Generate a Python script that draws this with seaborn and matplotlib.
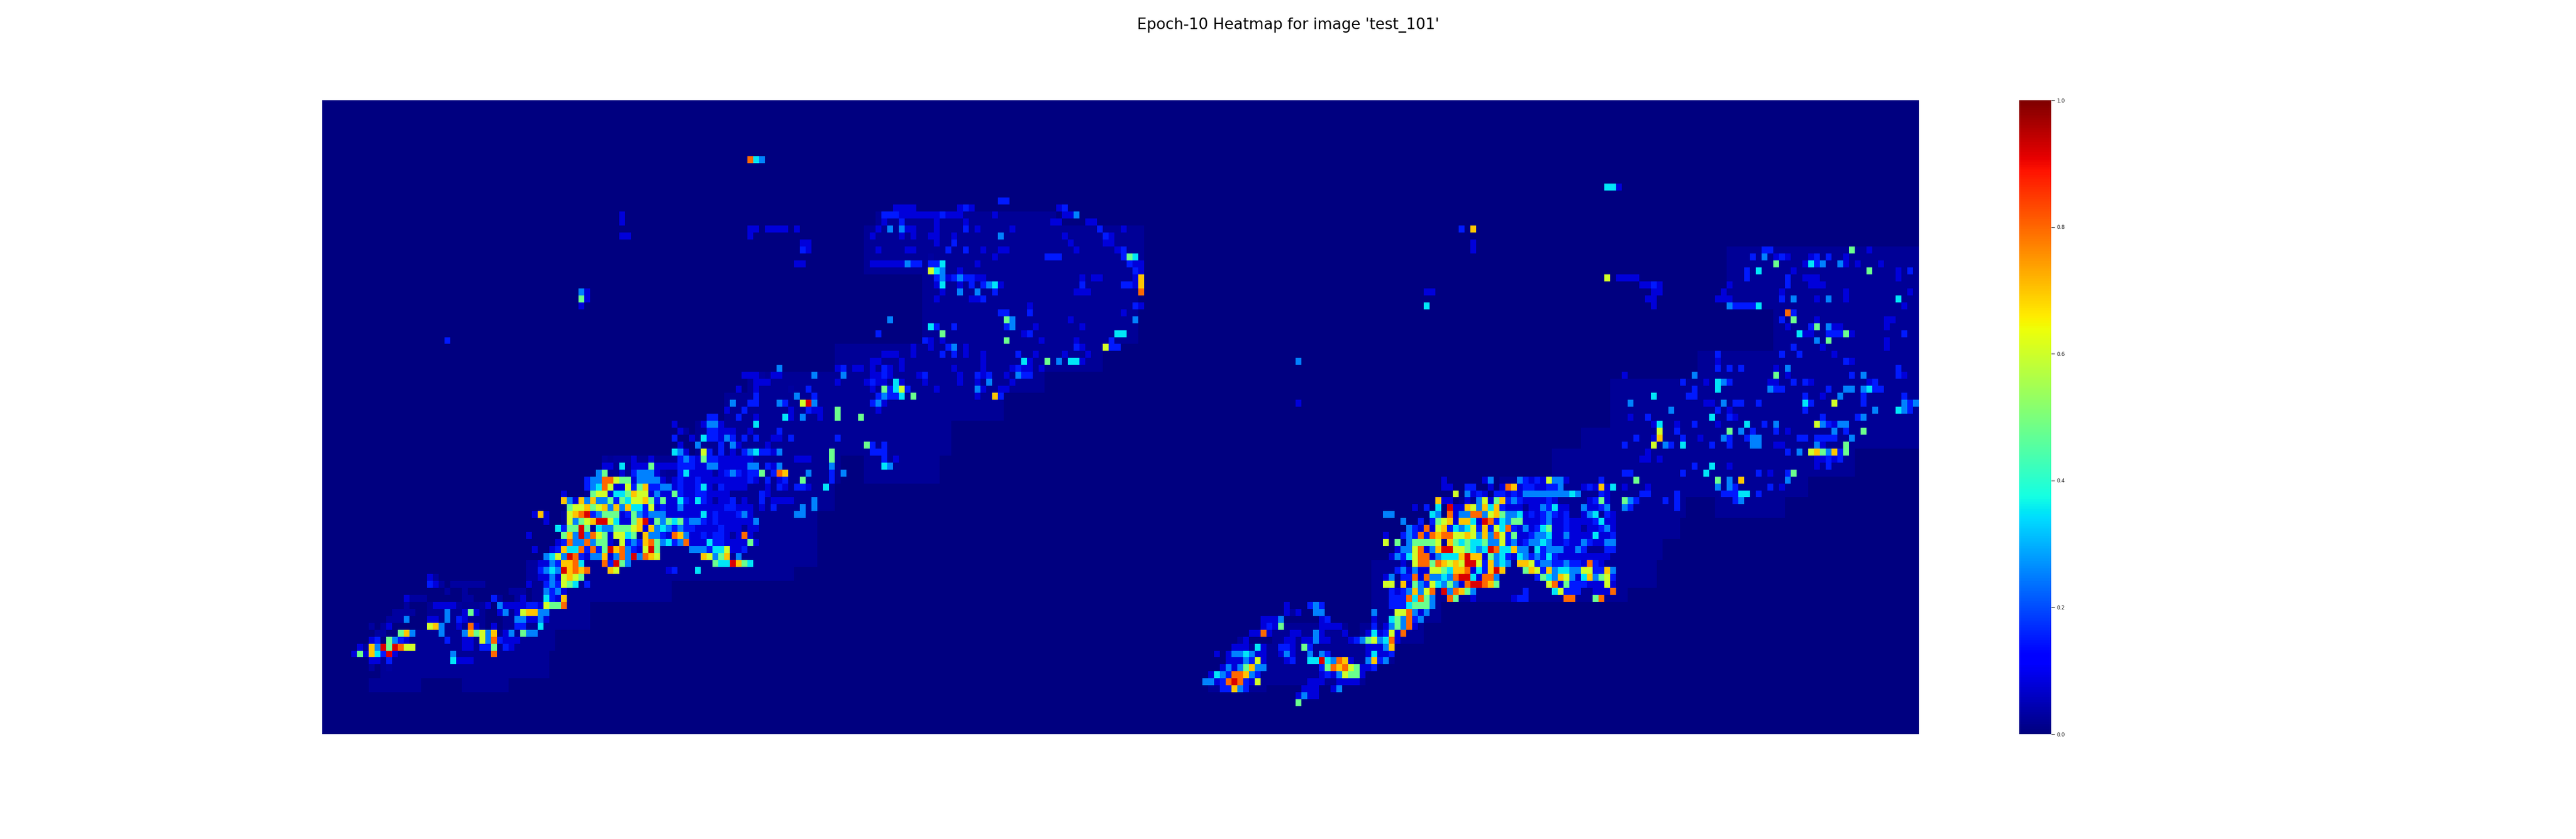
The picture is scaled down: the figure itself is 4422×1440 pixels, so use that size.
import numpy as np
import matplotlib
matplotlib.use("Agg")
import matplotlib.pyplot as plt
import seaborn as sns

TITLE = "Epoch-10 Heatmap for image 'test_101'"
N_ROWS, N_COLS = 91, 274
LEVELS = {'0': 0.03, '1': 0.08, '2': 0.15, '3': 0.25, '4': 0.35, '5': 0.48,
          '6': 0.60, '7': 0.70, '8': 0.80, '9': 0.92}
# thin flecks cover only part of a cell, so their cell average is lower
FLECK = {'9': '6', '8': '5', '7': '4', '6': '4', '5': '3', '4': '3', '3': '2'}
CBAR_TICKS = [0.0, 0.2, 0.4, 0.6, 0.8, 1.0]

# dim tissue outline: row_from, row_to, col_from, col_to
body_left = [(16,17,95,125),(18,24,93,140),(25,34,103,139),(35,38,88,133),(39,41,73,123),
             (42,45,69,116),(46,50,64,107),(51,54,48,88),(51,54,93,105),(55,58,45,87),
             (59,66,41,84),(67,68,36,80),(69,71,36,59),(72,75,31,45),(72,75,18,27),
             (76,78,15,39),(79,82,10,38),(83,84,8,16),(83,84,24,31)]
body_right = [(21,29,241,273),(30,35,249,273),(36,39,236,273),(40,46,221,273),(47,49,216,273),
              (50,53,211,262),(54,56,202,254),(57,59,195,233),(57,59,239,250),(60,62,190,232),
              (63,65,184,229),(66,69,180,228),(70,71,180,223),(72,74,180,191),(75,77,163,175),
              (75,77,178,188),(78,80,157,183),(81,83,154,178),(84,84,152,161)]

# sparse readings: each row is "col_offset:digits ..."
upper_left = ["22:33","4:1111 15:131 32:13","2:2221111 9:1112111 21:1 33:115","2:1 5:3 11:1 16:1 31:11 37:11",
 "1:1 3:5 5:511 11:1 16:3 18:1 24:1 39:3 43:1","0:1 5:1 7:1 10:11 14:1 22:5 33:1 40:31","11:1 14:3 34:1 40:11",
 "1:1 6:11 13:3 16:2 19:1 22:11 35:1 42:12","10:0 21:1 30:222 43:257","0:111111 6:4 7:22 10:237 18:1 44:211",
 "10:964 15:1 45:21","11:351 14:3432 18:11 36:1 38:11 45:17","11:16 15:1 17:2 19:3461 36:2 43:331 46:7",
 "12:1 15:4 18:5 21:2 35:111 46:8","11:1 17:113","27:1 45:31","22:33 27:2 43:1","3:5 23:85 34:1 45:5",
 "10:62 14:3 23:35 28:1 36:1","1:3 12:8 26:13 42:77","9:21 12:1 23:8 29:1 35:1 41:3","7:1 10:1 13:34 16:1 35:21 40:932",
 "2:111 7:1 12:2 14:3 16:1 19:1 25:3 28:1 33:1 37:1","0:11 5:1 19:1 26:61 30:8 32:5 34:771",
 "2:21 5:1 14:1 19:1 24:1211 29:1","0:1 2:11 8:12 15:1 18:21 20:3 23:1 25:432","0:1 4:61 9:1 15:1 18:1 20:4 24:1",
 "2:522 5:62 11:1 18:41 22:11","1:32 5:1 7:5 18:1 21:72"]
mid_left = ["18:5 28:1 29:3 31:11 34:1","12:111 15:0 17:11 24:4 29:4 35:12","14:111 28:1 33:1211","11:1 14:1 20:0 23:2 34:1 38:7",
 "14:2 21:5 24:3 36:53 38:36","10:4 13:22 18:43 22:694 34:241","9:1 12:2 20:1 23:311 28:8 35:1","6:32 11:3 14:1 19:61 22:5 25:1 28:8 32:8",
 "0:1 5:155 8:1 14:6","1:10 6:33111 13:1 18:3","0:3 3:1 5:6221 9:43 12:2 14:3 17:11 20:3 28:3","1:1 4:4 8:3 10:41 16:1 33:82 36:3",
 "0:751 5:62 8:3 10:1 12:346331 18:4 27:8 34:323","1:232 5:5111 14:3 21:111 27:8 36:2 38:1","1:111 6:221 13:22 16:214 27:4 36:65",
 "1:24 4:110 7:1 9:21 12:2125 17:387 23:4 27:2 29:4","1:11 4:111 16:2 18:12 22:8 27:3","1:21 4:131 12:1 16:1 18:31 21:221 26:6",
 "0:521 5:11 15:31","1:5214 5:2 10:1 12:1 15:2 17:1111 24:4","1:32111 10:11 15:1 17:3 22:4 24:5","1:3 5:4 12:3 21:44"]
tail_left = ["30:0011342777","30:00333329 37:487","13:10 30:00111 34:431666","13:210 17:000000 30:1 33:113366 38:4",
 "16:0 19:0 27:000 33:3141","9:1000 19:00 24:20 28:01 33:3327","9:0 14:1111 18:0 22:01 25:31111 30:221 33:6658",
 "7:0000 16:3 19:151 25:13 28:16 30:77 32:33","6:000 9:3 13:11 16:3 18:21 28:3311 32:31","3:0 5:01 13:673 18:1 20:81 24:1 28:22 32:4",
 "4:00 8:573 15:3 19:375637 26:13 29:533","3:12 6:5321 16:2 19:11 22:6382 26:111","1:10 3:7395 7:9866 19:11 22:225 26:21",
 "0:151 3:7429 7:1 17:3 24:8","3:11 6:2 17:4111","3:0 6:0"]
hot_left = ["13:0 15:0001 18:1 21:1 26:2321 30:6221111110","13:11 16:4 18:11151111 26:222 29:11 31:33111110 38:33",
 "12:35 16:1 18:23331 23:0 26:241 30:11012321 38:22","10:2338865 17:51 19:33331 24:0 25:1 26:211 29:211111111 38:21",
 "10:23486 15:116 18:2 19:57 21:22331 26:211241 32:02 34:1111","6:1 11:566 14:14 16:45 18:766 21:13114 26:211 29:2 30:21111",
 "6:7317 10:3 11:73352 16:54 18:667 21:52 23:511 26:421 29:4 30:21011 35:2","7:5667 11:56 13:7 14:37 16:37 18:44 20:26 22:121 25:1 26:31111111 34:2 35:2 36:111",
 "1:171 7:67892 12:3555 16:125 19:32 21:333 24:111111 30:4121112 37:31","3:1 7:635 10:679 13:9 14:64 16:11 18:5 19:79 21:15 23:35 25:4 26:5 27:233 30:212111 36:1 37:1 38:13",
 "5:42 7:5595 11:. 12:433 15:555 18:67 20:17 22:3 23:43 25:23 27:22 29:1 30:111 33:2 34:111 38:11",
 "0:1 6:5739 10:3 11:865 14:166 17:45 20:7 21:33 23:2 24:1 25:87 27:3 28:112 31:1 32:22 34:1 35:0 36:181",
 "5:12 7:833 10:83 12:55 14:1 16:62 18:32 20:785 23:34 25:2 26:38 28:111 31:422 34:1 35:1 36:11 38:51",
 "1:1 4:1 5:2 6:7448 10:2 11:82 13:59 15:783 18:21 20:695 28:333 31:244 34:6 35:112","3:3 4:46 6:3 7:982 10:13 12:3 13:71 15:38 17:393 20:876 30:763 33:57 36:3",
 "4:32 6:778 9:4 13:8 14:2 15:95 17:3 32:544 35:97 37:54","2:234 5:39 7:787 10:8 14:76 24:12 29:4","4:31 6:6765","0:1 3:232 6:65 10:2","3:32 5:31","3:42 5:17","3:65"]
tail_right = ["14:1 18:2 19:32","14:101 19:33 29:3 33:66 35:684 38:3","10:1113 20:12 29:1 32:474 35:38 37:3","10:1215 20:1111 29:2 31:12134 36:8",
 "8:11 10:81 15:11 19:31 24:1 28:1412 32:618","6:01 14:11 17:113 20:11 25:123 28:563 31:4 32:81","5:111 9:41 13:221 17:52 28:111 31:37",
 "2:1 4:1334 8:311 13:131 18:3 20:32 28:141 31:12","4:111 7:3261 14:12 18:449 21:438 24:71 28:372 31:3","3:131 6:3573 10:3 20:258 23:7865 27:11 29:2",
 "1:14 3:32887 8:32 20:121 23:3655 27:1","0:33 2:128 5:982 8:16 18:111 23:1111","3:22 5:732 17:111 22:13","16:131 19:1","16:5"]
hot_right = ["10:1 17:1 18:3 23:321 26:21 28:6331 37:2","10:11 14:22 18:1 20:187 23:1221 27:122 30:3 34:121 37:7 38:14",
 "12:6 14:3121 19:221 22:2133 26:3333333 32:4 33:3 37:21","9:711 14:1 16:36 18:157 21:23211 26:1 27:121 35:125 38:1",
 "5:1 7:2 9:4 11:911 14:763 17:747 20:2111 25:1 26:132 29:411 34:3 35:112 38:3","0:33 8:43 11:81 13:338 16:836 19:753 22:341 25:21 27:232 30:12 34:134 38:21",
 "3:3 6:2 8:2567 12:1 13:774 16:1 17:98 19:243 22:55 24:111 27:2 28:3 29:112 32:1111 36:241 39:1",
 "4:321 7:81 9:672 12:434 15:62 17:72 19:648 22:213 25:124 28:5 29:112 32:110 35:1 36:1231","0:1 3:2328 7:2 8:8788 12:667 15:6 16:37 18:38 20:625 23:1 24:123 27:341 30:13 32:111 35:1 36:4112",
 "0:6 2:5 4:3555 8:56 11:75 13:45 15:445 18:33 20:623 23:1233 27:431 30:12 32:11 34:3211 38:33","2:133 5:68 7:13 9:799 12:665 15:43 17:498 20:447 23:33 26:423 29:33 31:11 33:32 38:22",
 "1:1 2:32 4:4688 8:134 11:447 14:977 17:1 18:53 20:421 23:43 25:232 28:42 30:1111 34:1 35:1111","3:1 5:688 8:58 10:76 12:769 15:96 17:27 19:3 20:43 23:776 26:233 29:22 31:322 34:18 36:21",
 "2:23 4:13 6:1 7:16 9:6 10:54 12:778 15:14 17:279 20:7 24:576 27:2 28:73 30:44 32:33 34:66 36:22 38:73","0:13 3:2 4:28 6:1 7:8 8:33 10:43 12:899 15:41 17:883 26:25 28:43 30:763 33:1 34:47 36:35 38:62",
 "0:66 3:71 5:5326 9:4 10:35 12:31 14:8998 18:75 28:68 30:15 32:222 35:111 38:61","1:21 3:23 5:736 8:8 10:93 12:875 15:3 24:2 29:46 31:222 36:111 39:8",
 "1:222 4:8485 8:3 11:85 15:1 22:122 31:88 36:58","1:222 4:45553","2:66 4:831","1:45 3:382","1:353 4:81"]
upper_right = ["24:23 39:8 42:1","22:2 24:5 26:131 32:12 35:2 38:1","26:5 31:1734 37:41 40:1 44:1","21:2 23:6 29:1 42:8 47:1 49:3","0:7 21:3 28:2 31:111 47:1",
 "3:117 18:1 28:2 32:111","5:1 17:1 27:1 38:1 49:1","4:11 16:111 27:2 29:4 33:1 35:5 38:1 47:6","5:1 18:532327 48:1","28:82","27:2 29:8 33:1 45:11",
 "28:1 32:38 35:511 45:1","30:611 35:33251 48:2","33:4 35:8 45:1","29:2 34:1 45:1","16:3 27:3 30:2 36:1","16:1 38:21","16:2 18:2 20:3 26:1 28:5 47:2",
 "0:1 12:5 26:8 28:1 39:3 41:5 47:21","10:2 14:1 16:753 25:11 29:2 31:21 42:13","12:3 16:7 25:433 35:3 38:54 41:473 44:2","5:7 11:22 31:2 34:1 37:4 41:2 48:2",
 "1:4 14:11 17:4 19:22 23:3 31:72 36:6 41:3 48:535","8:5 16:3 18:1 31:2 43:4 47:653","1:1 4:2 15:7 18:31 34:3 40:35","5:17 9:1 12:3 16:1 21:7 24:3 26:4 33:632 36:144",
 "6:6 9:3 18:8 20:4 22:3 26:2 28:1 36:4 38:3 41:8","2:3 5:17 10:3 13:1 17:43 21:344 30:23 33:2232 39:4","0:3 5:6 7:42 10:6 15:3 18:3 22:54 26:11 33:41 38:8",
 "4:1 28:2 30:4 32:6753 36:72 38:8","3:11 6:1 33:1131 37:3","12:3 15:6 18:1 33:1 35:3","0:23 10:3 14:7 23:2 25:1 28:38","2:5 16:8 18:4 20:7 28:5",
 "0:1 4:1 16:5 18:42 25:3 27:1","3:33 9:3 17:222 20:44 23:3","0:542 7:2 9:3 19:34","0:53 9:3"]
islands = [(8,73,"843"),(12,220,"441"),(16,51,"1"),(17,51,"1"),(19,51,"11"),(18,195,"2 7"),(20,197,"1"),(21,197,"1"),
           (18,73,"11 1111 1"),(19,73,"1"),(20,82,"11"),(21,82,"21"),(23,81,"11"),(27,44,"31"),(28,44,"51"),(29,44,"1"),(34,21,"2"),
           (25,220,"6 1111"),(26,228,"21"),(27,228,"11"),(27,189,"11"),(29,189,"4"),(37,167,"3"),(43,167,"1")]
# whole cells that really are bright in the fleck-dominated upper regions
solid_cells = [(53,75,"5"),(53,78,"87"),(56,60,"5"),(50,65,"6"),(51,65,"5"),(43,82,"69"),
               (25,140,"7"),(26,140,"7"),(27,140,"8"),(22,138,"5"),(41,96,"5"),(41,99,"6"),(42,115,"7"),(42,101,"5"),
               (54,243,"7"),(54,225,"5"),(43,259,"6"),(50,255,"6753"),(50,259,"7"),(46,256,"63"),(47,229,"6"),
               (48,229,"7"),(49,228,"6"),(56,243,"44"),(57,223,"5"),(23,249,"5"),(33,261,"5"),(30,251,"8")]

# blocks: (rows, first_row, first_col, flecky), drawn in this order
blocks = [(upper_left, 14, 94, True), (mid_left, 38, 60, True), (upper_right, 21, 223, True), (tail_left, 66, 5, False),
          (tail_right, 72, 151, False), (hot_left, 51, 35, False), (hot_right, 54, 182, False)]

grid = np.zeros((N_ROWS, N_COLS))
for r0, r1, c0, c1 in body_left + body_right:
    grid[r0:r1 + 1, c0:c1 + 1] = 0.02
for rows, row0, col0, flecky in blocks:
    for j, line in enumerate(rows):
        for part in line.split():
            off, digits = part.split(':')
            for i, ch in enumerate(digits):
                if ch in LEVELS:
                    c = col0 + int(off) + i
                    if 0 <= c < N_COLS and row0 + j < N_ROWS:
                        grid[row0 + j, c] = LEVELS[FLECK.get(ch, ch) if flecky else ch]
for row, col, digits in islands + solid_cells:
    for i, ch in enumerate(digits):
        if ch in LEVELS:
            grid[row, col + i] = LEVELS[ch]

sns.set_theme(style="white")
W, H = 4422, 1440
fig = plt.figure(figsize=(W / 100, H / 100), dpi=100)
ax = fig.add_axes([553 / W, 1 - 1260 / H, 2741 / W, 1088 / H])
cax = fig.add_axes([3466 / W, 1 - 1260 / H, 55 / W, 1088 / H])
sns.heatmap(grid, ax=ax, cbar_ax=cax, cmap="jet", vmin=0, vmax=1, xticklabels=False, yticklabels=False,
            cbar_kws={"ticks": CBAR_TICKS})
ax.set_axis_off()
cax.tick_params(length=4, width=0.7, labelsize=6.5, pad=3, colors="#222222", right=True)
cax.yaxis.set_major_formatter(matplotlib.ticker.FormatStrFormatter("%.1f"))
for s in cax.spines.values():
    s.set_visible(False)
fig.suptitle(TITLE, fontsize=18.7, y=0.979, color="black", family="DejaVu Sans", va="top")
fig.savefig("out.png", dpi=100)
